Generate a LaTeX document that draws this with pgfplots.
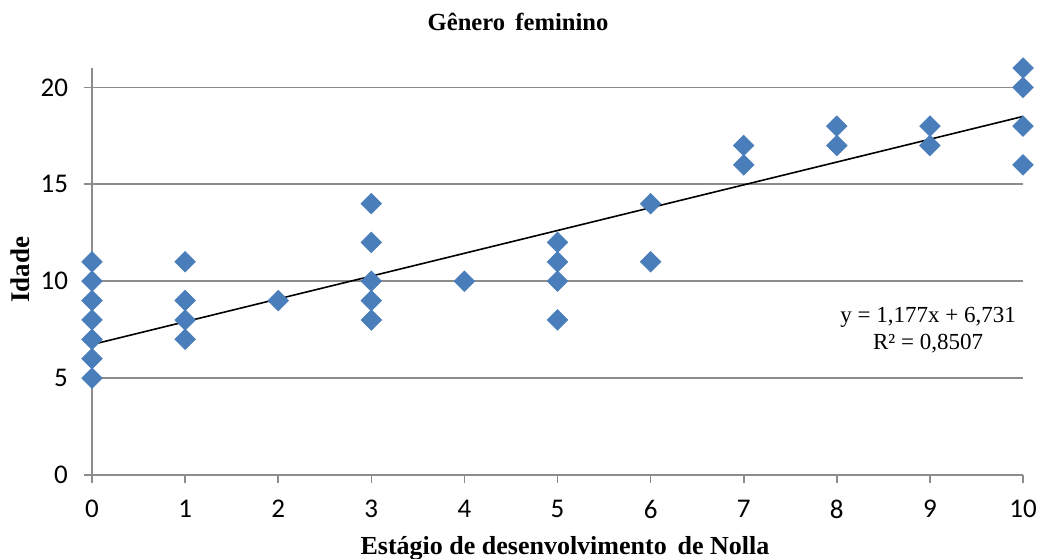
\documentclass[border=0pt]{standalone}
\usepackage{fontspec}
\setmainfont{Liberation Serif}
\newfontfamily\calibri{Carlito}
\usepackage{pgfplots}
\pgfplotsset{compat=1.18}
\definecolor{xlblue}{HTML}{4A7EBB}
\definecolor{gridgray}{HTML}{8C8C8C}
\begin{document}
\begin{tikzpicture}
\begin{axis}[
  scale only axis,
  width=465.5pt, height=203.5pt,
  xmin=0, xmax=10, ymin=0, ymax=21,
  xtick={0,...,10}, ytick={0,5,10,15,20},
  axis lines=left,
  axis line style={gridgray, line width=0.8pt, -},
  tick style={gridgray, line width=0.8pt},
  tick align=outside,
  major tick length=4pt,
  ymajorgrids,
  grid style={gridgray, line width=0.8pt},
  /pgf/number format/assume math mode=true,
  ticklabel style={font=\calibri\fontsize{13.5}{15}\selectfont},
  xticklabel style={yshift=-5pt},
  yticklabel style={xshift=-4.5pt},
  xlabel={Estágio de desenvolvimento\, de Nolla},
  ylabel={Idade},
  x label style={at={(0.508,-0.18)}, anchor=center, font=\bfseries\fontsize{13}{15}\selectfont},
  y label style={at={(-0.0773,0.504)}, anchor=center, font=\bfseries\fontsize{13.5}{15}\selectfont},
  clip=false,
]
\addplot[only marks, mark=square*, mark size=3.6pt, mark options={rotate=45, fill=xlblue, draw=xlblue}, color=xlblue]
coordinates {
(0,5)(0,6)(0,7)(0,8)(0,9)(0,10)(0,11)
(1,7)(1,8)(1,9)(1,11)
(2,9)
(3,8)(3,9)(3,10)(3,12)(3,14)
(4,10)
(5,8)(5,10)(5,11)(5,12)
(6,11)(6,14)
(7,16)(7,17)
(8,17)(8,18)
(9,17)(9,18)
(10,16)(10,18)(10,20)(10,21)
};
\addplot[black, line width=0.8pt] coordinates {(0,6.731)(10,18.501)};
\node[align=center, font=\fontsize{11.5}{13.5}\selectfont, inner sep=0pt] at (axis cs:8.98,7.49) {y = 1,177x + 6,731\\R² = 0,8507};
\node[font=\bfseries\fontsize{12.3}{14}\selectfont] at (rel axis cs:0.4576,1.113) {Gênero\, feminino};
\end{axis}
\pgfresetboundingbox
\path (current axis.south west) ++(-46pt,-41.5pt) rectangle ++(518.5pt,279pt);
\end{tikzpicture}
\end{document}
